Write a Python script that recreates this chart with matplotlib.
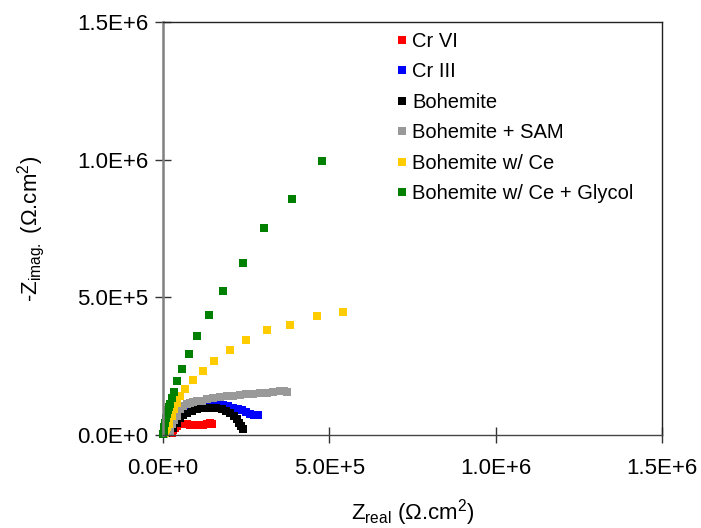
import matplotlib
matplotlib.use("Agg")
import matplotlib.pyplot as plt

plt.rcParams["font.family"] = ["Liberation Sans", "DejaVu Sans"]
plt.rcParams["mathtext.fontset"] = "custom"
plt.rcParams["mathtext.rm"] = "Liberation Sans"
plt.rcParams["mathtext.it"] = "Liberation Sans"

# Nyquist data (Ohm.cm2)
cr6_re = [4e3, 10e3, 18e3, 26e3, 31e3, 36e3, 43e3, 51e3, 60e3, 71e3, 81e3, 91e3,
          101e3, 111e3, 121e3, 131e3, 140e3, 146e3]
cr6_im = [2e3, 6e3, 12e3, 8e3, 18e3, 27e3, 34e3, 39e3, 41e3, 41e3, 38e3, 36e3,
          36e3, 36e3, 38e3, 41e3, 42e3, 41e3]

cr3_re = [3e3, 8e3, 14e3, 21e3, 30e3, 41e3, 51e3, 61e3, 76e3, 91e3, 111e3, 131e3,
          146e3, 161e3, 181e3, 196e3, 211e3, 225e3, 237e3, 250e3, 261e3, 275e3, 287e3]
cr3_im = [3e3, 8e3, 12e3, 18e3, 33e3, 51e3, 63e3, 75e3, 88e3, 99e3, 112e3, 118e3,
          117e3, 114e3, 109e3, 104e3, 99e3, 94e3, 90e3, 82e3, 75e3, 74e3, 73e3]

boh_re = [3e3, 8e3, 14e3, 21e3, 31e3, 41e3, 51e3, 61e3, 71e3, 86e3, 101e3, 121e3,
          141e3, 158e3, 176e3, 190e3, 201e3, 212e3, 221e3, 229e3, 235e3, 239e3]
boh_im = [2e3, 6e3, 10e3, 12e3, 27e3, 45e3, 63e3, 73e3, 81e3, 88e3, 94e3, 98e3,
          99e3, 98e3, 94e3, 88e3, 81e3, 70e3, 57e3, 45e3, 33e3, 22e3]

sam_re = [2e3, 6e3, 12e3, 21e3, 26e3, 33e3, 41e3, 51e3, 61e3, 71e3, 81e3, 91e3,
          103e3, 116e3, 133e3, 151e3, 171e3, 191e3, 211e3, 231e3, 251e3, 271e3,
          292e3, 312e3, 332e3, 352e3, 364e3, 372e3]
sam_im = [3e3, 8e3, 12e3, 15e3, 39e3, 55e3, 69e3, 94e3, 104e3, 112e3, 117e3, 120e3,
          122e3, 124e3, 129e3, 134e3, 137e3, 140e3, 143e3, 146e3, 148e3, 150e3,
          152e3, 154e3, 157e3, 160e3, 161e3, 157e3]

ce_re = [1e3, 5e3, 9e3, 13e3, 19e3, 26e3, 33e3, 41e3, 51e3, 65e3, 91e3, 119e3,
         152e3, 201e3, 250e3, 312e3, 382e3, 462e3, 540e3]
ce_im = [3e3, 8e3, 20e3, 28e3, 39e3, 69e3, 94e3, 118e3, 142e3, 166e3, 199e3, 231e3,
         269e3, 308e3, 345e3, 380e3, 400e3, 432e3, 448e3]

gly_re = [0.5e3, 2e3, 4e3, 6e3, 8e3, 11e3, 14e3, 17e3, 21e3, 26e3, 32e3, 42e3,
          58e3, 78e3, 102e3, 138e3, 180e3, 240e3, 304e3, 388e3, 478e3]
gly_im = [2e3, 15e3, 30e3, 45e3, 60e3, 76e3, 90e3, 100e3, 112e3, 135e3, 157e3, 196e3,
          238e3, 294e3, 360e3, 437e3, 524e3, 623e3, 750e3, 856e3, 994e3]

series = [
    ("Cr VI", cr6_re, cr6_im, "#ff0000"),
    ("Cr III", cr3_re, cr3_im, "#0000ff"),
    ("Bohemite", boh_re, boh_im, "#000000"),
    ("Bohemite + SAM", sam_re, sam_im, "#999999"),
    ("Bohemite w/ Ce", ce_re, ce_im, "#ffcc00"),
    ("Bohemite w/ Ce + Glycol", gly_re, gly_im, "#008000"),
]

ticks = [0, 5e5, 1e6, 1.5e6]
tick_labels = ["0.0E+0", "5.0E+5", "1.0E+6", "1.5E+6"]

fig = plt.figure(figsize=(7.01, 5.28), dpi=100)
ax = fig.add_axes([163 / 701, 1 - 435 / 528, 499 / 701, 413 / 528])

for name, xs, ys, color in series:
    ax.plot(xs, ys, linestyle="none", marker="s", markersize=6,
            markeredgewidth=0, color=color, label=name, clip_on=False)

ax.set_xlim(0, 1.5e6)
ax.set_ylim(0, 1.5e6)
ax.set_xticks(ticks)
ax.set_xticklabels(tick_labels)
ax.set_yticks(ticks)
ax.set_yticklabels(tick_labels)
ax.tick_params(direction="inout", length=11, width=1, color="#333333",
               labelsize=16)
ax.tick_params(axis="x", pad=11)
ax.tick_params(axis="y", pad=5)

for side in ["top", "right"]:
    ax.spines[side].set_color("#222222")
    ax.spines[side].set_linewidth(1.0)
ax.spines["bottom"].set_color("#444444")
ax.spines["bottom"].set_linewidth(1.0)
ax.spines["left"].set_color("#808080")
ax.spines["left"].set_linewidth(1.8)

ax.set_xlabel(r"Z$_{\mathregular{real}}$ (Ω.cm$^{\mathregular{2}}$)",
              fontsize=16, labelpad=13)
ax.set_ylabel(r"-Z$_{\mathregular{imag.}}$ (Ω.cm$^{\mathregular{2}}$)",
              fontsize=16, labelpad=22)

ax.legend(loc="upper left", bbox_to_anchor=(397 / 701, 1 - 32 / 528),
          bbox_transform=fig.transFigure, frameon=False, fontsize=14.5,
          handlelength=0.5, handletextpad=0.25, labelspacing=0.57,
          borderpad=0, borderaxespad=0, markerscale=1.0)

fig.savefig("out.png", dpi=100)
